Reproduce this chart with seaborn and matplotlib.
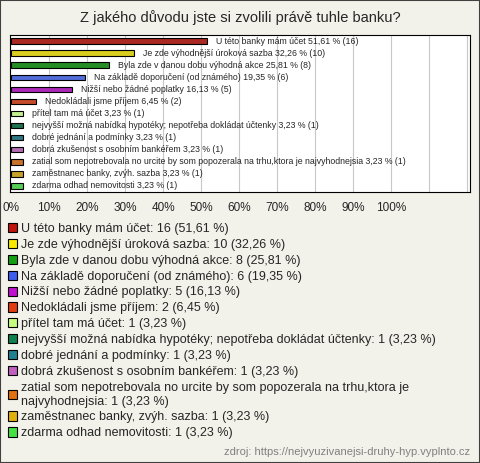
import matplotlib
matplotlib.use("Agg")
import matplotlib.pyplot as plt
from matplotlib.patches import Patch, Rectangle
import pandas as pd
import seaborn as sns

# data
answers = [
    "U této banky mám účet",
    "Je zde výhodnější úroková sazba",
    "Byla zde v danou dobu výhodná akce",
    "Na základě doporučení (od známého)",
    "Nižší nebo žádné poplatky",
    "Nedokládali jsme příjem",
    "přítel tam má účet",
    "nejvyšší možná nabídka hypotéky; nepotřeba dokládat účtenky",
    "dobré jednání a podmínky",
    "dobrá zkušenost s osobním bankéřem",
    "zatial som nepotrebovala no urcite by som popozerala na trhu,ktora je najvyhodnejsia",
    "zaměstnanec banky, zvýh. sazba",
    "zdarma odhad nemovitosti",
]
counts = [16, 10, 8, 6, 5, 2, 1, 1, 1, 1, 1, 1, 1]
percents = [51.61, 32.26, 25.81, 19.35, 16.13, 6.45, 3.23, 3.23, 3.23, 3.23, 3.23, 3.23, 3.23]
colors = ["#c0140c", "#f8e800", "#12a012", "#3c5ef0", "#c010d0", "#e03c10", "#c4ff80",
          "#108050", "#208090", "#c060c0", "#e07010", "#e0b010", "#44e044"]
x_ticks = [0, 10, 20, 30, 40, 50, 60, 70, 80, 90, 100]

title = "Z jakého důvodu jste si zvolili právě tuhle banku?"
source = "zdroj: https://nejvyuzivanejsi-druhy-hyp.vyplnto.cz"
bg = "#f2f2ea"

def fmt(v):
    return f"{v:.2f}".replace(".", ",")

df = pd.DataFrame({"answer": answers, "count": counts, "pct": percents})

sns.set_theme(style="white")
plt.rcParams["font.family"] = ["Liberation Sans", "DejaVu Sans"]

fig = plt.figure(figsize=(4.8, 4.63), dpi=100, facecolor=bg)
W, H = 480, 463
ax = fig.add_axes([10 / W, 1 - 192 / H, 460 / W, 157 / H])
ax.set_facecolor("white")

sns.barplot(data=df, x="pct", y="answer", hue="answer", palette=colors,
            orient="h", width=0.45, edgecolor="black", linewidth=0.8,
            legend=False, ax=ax, zorder=3)

ax.set_xlim(-0.3, 120.7)
ax.set_ylim(12.5, -0.5)
for gx in range(10, 121, 10):
    ax.axvline(gx, color="#c8c8c8", linewidth=0.8, zorder=1)
ax.set_xticks(x_ticks)
ax.set_xticklabels([f"{t}%" for t in x_ticks], fontsize=8.5)
ax.tick_params(axis="x", length=0, pad=7)
ax.set_yticks([])
ax.set_xlabel("")
ax.set_ylabel("")
for s in ax.spines.values():
    s.set_color("black")
    s.set_linewidth(0.8)

# labels next to the bars
for i, row in df.iterrows():
    ax.annotate(f"{row['answer']} {fmt(row['pct'])} % ({row['count']})",
                xy=(row["pct"], i), xytext=(6.5, 0), textcoords="offset points",
                va="center", ha="left", fontsize=6.3)

fig.text(0.5, 1 - 18 / H, title, ha="center", va="center", fontsize=10.5)

# legend under the chart
handles = [Patch(facecolor=c, edgecolor="black", linewidth=0.8) for c in colors]
leg_labels = []
for a, c, p in zip(answers, counts, percents):
    lab = f"{a}: {c} ({fmt(p)} %)"
    if len(lab) > 75:
        lab = lab.replace("trhu,ktora je ", "trhu,ktora je\n")
    leg_labels.append(lab)
fig.legend(handles, leg_labels, loc="upper left", bbox_to_anchor=(8 / W, 1 - 223 / H),
           frameon=False, fontsize=9, handlelength=0.75, handleheight=0.75,
           handletextpad=0.3, labelspacing=0.31, borderaxespad=0, borderpad=0)

fig.text(470 / W, 1 - 452 / H, source, ha="right", va="center", fontsize=8, color="#808080")

fig.patches.append(Rectangle((0, 0), 1, 1, transform=fig.transFigure, fill=False,
                             edgecolor="#404040", linewidth=1.5))

fig.savefig("out.png", dpi=100, facecolor=bg)
